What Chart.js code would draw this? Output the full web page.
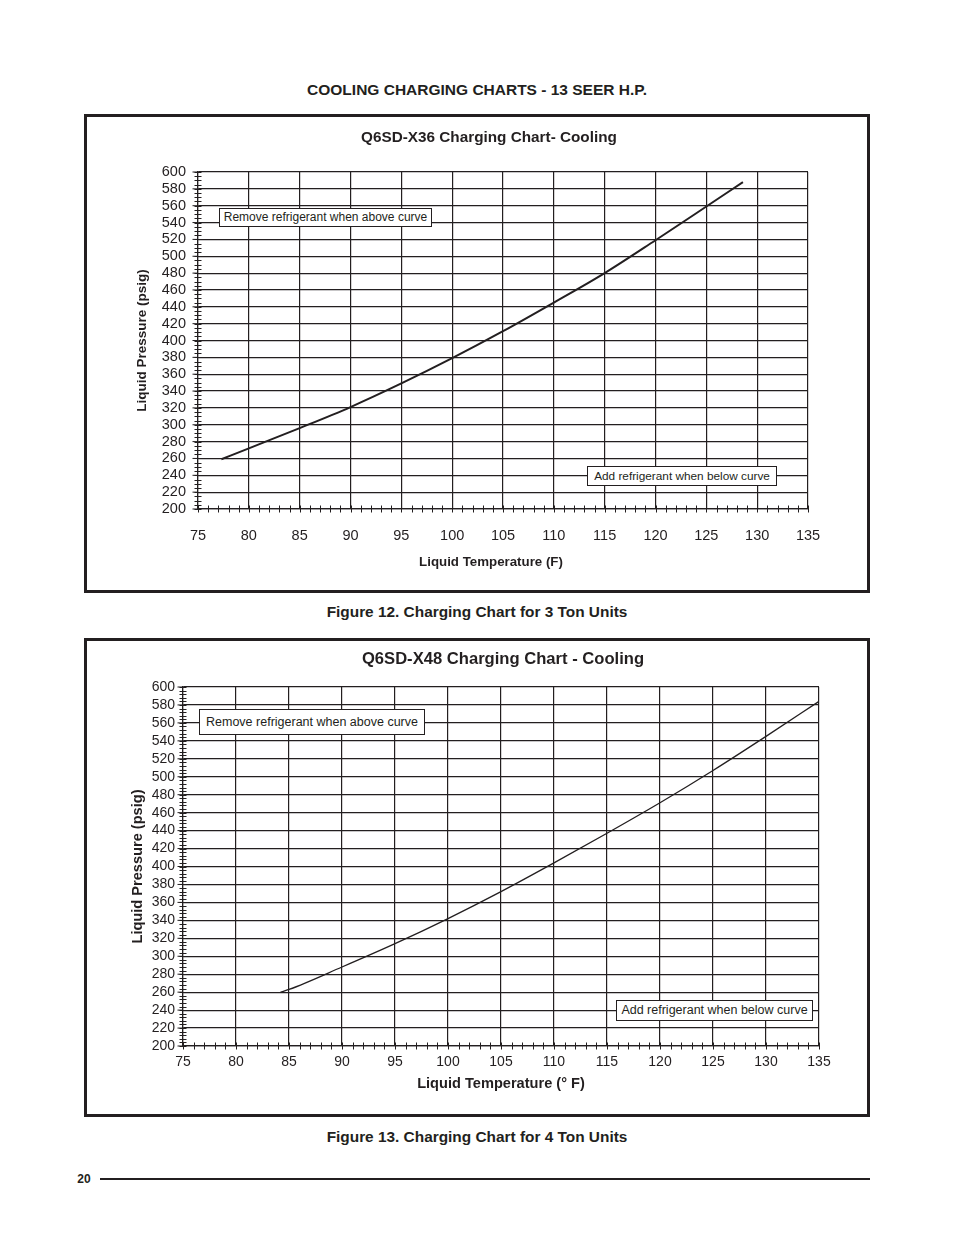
<!DOCTYPE html>
<html>
<head>
<meta charset="utf-8">
<script src="https://cdn.jsdelivr.net/npm/chart.js@4.4.0/dist/chart.umd.min.js"></script>
<style>
  body { margin: 0; background: #fff; }
  #page { position: relative; width: 954px; height: 1235px; overflow: hidden;
          font-family: "Liberation Sans", Arial, Helvetica, sans-serif; color: #231f20; }
  .t { position: absolute; white-space: nowrap; font-weight: bold; line-height: 20px; transform: translateX(-50%); }
  .frame { position: absolute; left: 84px; width: 780px; height: 473px; border: 3px solid #231f20; }
  .frame canvas { position: absolute; left: 0; top: 0; }
  .note { position: absolute; box-sizing: border-box; border: 1px solid #231f20; background: #fff;
          text-align: center; white-space: nowrap; }
  .rule { position: absolute; left: 100px; width: 770px; top: 1178px; height: 2px; background: #231f20; }
</style>
</head>
<body>
<div id="page">
  <div class="t" style="left:477px;top:80px;font-size:15.5px;">COOLING CHARGING CHARTS - 13 SEER H.P.</div>

  <div class="frame" style="top:114px;"><canvas id="chartX36" width="780" height="473"></canvas></div>
  <div class="t" style="left:489px;top:127px;font-size:15.3px;">Q6SD-X36 Charging Chart- Cooling</div>
  <div class="note" style="left:219px;top:208px;width:213px;height:19px;font-size:12px;line-height:17px;">Remove refrigerant when above curve</div>
  <div class="note" style="left:587px;top:466px;width:190px;height:20px;font-size:11.8px;line-height:18px;">Add refrigerant when below curve</div>
  <!-- x title of the 3 ton chart sits left of the plot centre in the original -->
  <div class="t" style="left:491px;top:552px;font-size:13.3px;">Liquid Temperature (F)</div>
  <div class="t" style="left:477px;top:602px;font-size:15.4px;">Figure 12. Charging Chart for 3 Ton Units</div>

  <div class="frame" style="top:638px;"><canvas id="chartX48" width="780" height="473"></canvas></div>
  <div class="t" style="left:503px;top:649px;font-size:16.6px;">Q6SD-X48 Charging Chart - Cooling</div>
  <div class="note" style="left:199px;top:709px;width:226px;height:26px;font-size:12.5px;line-height:24px;">Remove refrigerant when above curve</div>
  <div class="note" style="left:616px;top:1000px;width:197px;height:21px;font-size:12.5px;line-height:19px;">Add refrigerant when below curve</div>
  <div class="t" style="left:477px;top:1127px;font-size:15.4px;">Figure 13. Charging Chart for 4 Ton Units</div>

  <div class="t" style="left:84px;top:1169px;font-size:12px;">20</div>
  <div class="rule"></div>
</div>

<script>
// axis ticks shared by both charts
const tempTicks = [75, 80, 85, 90, 95, 100, 105, 110, 115, 120, 125, 130, 135];
const pressTicks = [200, 220, 240, 260, 280, 300, 320, 340, 360, 380, 400,
                    420, 440, 460, 480, 500, 520, 540, 560, 580, 600];

// Q6SD-X36 (3 ton) curve
const x36Temp  = [77.3, 80, 85, 90, 95, 100, 105, 110, 115, 120, 125, 128.6];
const x36Press = [259, 272, 296, 321, 349, 379, 411, 445, 480, 519, 559, 588];

// Q6SD-X48 (4 ton) curve
const x48Temp  = [84.2, 85, 90, 95, 100, 105, 110, 115, 120, 125, 130, 135];
const x48Press = [260, 263, 288, 314, 342, 372, 404, 437, 471, 507, 545, 584];

const ink = "#231f20";
const font = '"Liberation Sans", Arial, Helvetica, sans-serif';

// small tick marks crossing the left and bottom axes
const minorTicks = {
  id: "minorTicks",
  afterDraw(chart, args, o) {
    const { ctx, chartArea: a, scales: { x, y } } = chart;
    ctx.save();
    ctx.strokeStyle = ink;
    ctx.lineWidth = 1;
    ctx.beginPath();
    for (let v = x.min; v <= x.max + 0.01; v += 1) {
      const px = Math.round(x.getPixelForValue(v)) + 0.5;
      ctx.moveTo(px, a.bottom - o.len);
      ctx.lineTo(px, a.bottom + o.len);
    }
    for (let v = y.min; v <= y.max + 0.01; v += o.yStep) {
      const py = Math.round(y.getPixelForValue(v)) + 0.5;
      ctx.moveTo(a.left - o.len, py);
      ctx.lineTo(a.left + o.len, py);
    }
    // major lines poke a little left of the axis
    pressTicks.forEach(v => {
      const py = y.getPixelForValue(v);
      ctx.moveTo(a.left - o.len - 2, py);
      ctx.lineTo(a.left, py);
    });
    ctx.stroke();
    ctx.restore();
  }
};

function makeChart(id, temps, press, s) {
  const ctx = document.getElementById(id).getContext("2d");
  return new Chart(ctx, {
    type: "scatter",
    data: {
      datasets: [{
        data: temps.map((t, i) => ({ x: t, y: press[i] })),
        showLine: true,
        cubicInterpolationMode: "monotone",
        borderColor: ink,
        borderWidth: s.curveWidth,
        pointRadius: 0
      }]
    },
    options: {
      responsive: false,
      animation: false,
      events: [],
      layout: { padding: { left: 0, top: s.top, right: s.right, bottom: 0 } },
      plugins: {
        legend: { display: false },
        tooltip: { enabled: false },
        minorTicks: { len: 3.5, yStep: s.yStep }
      },
      scales: {
        x: {
          type: "linear",
          min: 75, max: 135,
          afterBuildTicks: sc => { sc.ticks = tempTicks.map(v => ({ value: v })); },
          afterFit: sc => { sc.height = s.xHeight; },
          grid: { color: ink, lineWidth: s.gridWidth, drawTicks: false },
          border: { color: ink, width: s.gridWidth },
          ticks: { color: ink, padding: s.xPad, maxRotation: 0, autoSkip: false,
                   font: { family: font, size: s.tickSize } },
          title: {
            display: !!s.xTitle, text: s.xTitle || "", color: ink,
            padding: { top: 0, bottom: s.xTitlePad },
            font: { family: font, size: s.xTitleSize, weight: "bold" }
          }
        },
        y: {
          type: "linear",
          min: 200, max: 600,
          afterBuildTicks: sc => { sc.ticks = pressTicks.map(v => ({ value: v })); },
          afterFit: sc => { sc.width = s.yWidth; },
          grid: { color: ink, lineWidth: s.gridWidth, drawTicks: false },
          border: { color: ink, width: s.gridWidth },
          ticks: { color: ink, padding: s.yPad, autoSkip: false,
                   font: { family: font, size: s.tickSize } },
          title: {
            display: true, text: "Liquid Pressure (psig)", color: ink,
            padding: { top: s.yTitlePad, bottom: 0 },
            font: { family: font, size: s.yTitleSize, weight: "bold" }
          }
        }
      }
    },
    plugins: [minorTicks]
  });
}

makeChart("chartX36", x36Temp, x36Press, {
  top: 55, right: 59, yWidth: 111, xHeight: 81,
  xPad: 18, yPad: 12, tickSize: 14.5,
  xTitle: null, xTitleSize: 13.3, xTitlePad: 21,
  yTitleSize: 13.5, yTitlePad: 47,
  gridWidth: 1.2, curveWidth: 2, yStep: 5
});

makeChart("chartX48", x48Temp, x48Press, {
  top: 46, right: 48, yWidth: 96, xHeight: 68,
  xPad: 8, yPad: 8, tickSize: 14,
  xTitle: "Liquid Temperature (° F)", xTitleSize: 14.6, xTitlePad: 21,
  yTitleSize: 14.6, yTitlePad: 42,
  gridWidth: 1.2, curveWidth: 1.3, yStep: 4
});
</script>
</body>
</html>
